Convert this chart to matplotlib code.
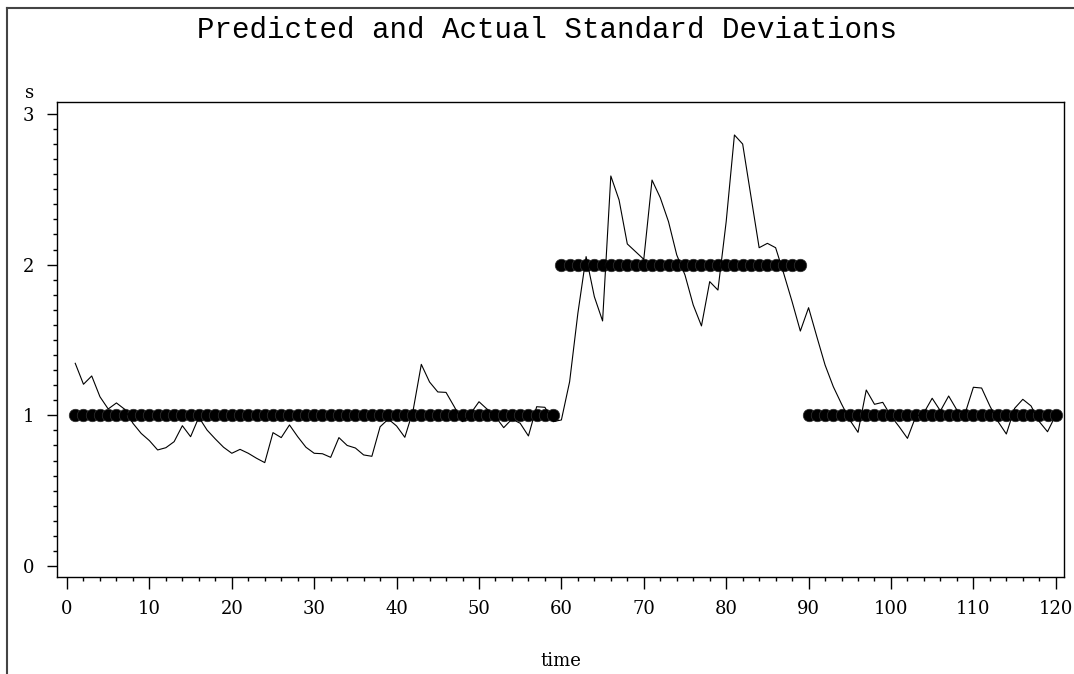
import matplotlib
matplotlib.use("Agg")
import matplotlib.pyplot as plt
from matplotlib.lines import Line2D
from matplotlib.ticker import MultipleLocator
import numpy as np

# observation index
time = np.arange(1, 121)

# predicted standard deviation: regime levels
predicted = [1.0] * 59 + [2.0] * 30 + [1.0] * 31

# actual (sample) standard deviation
actual = [
    1.345, 1.206, 1.261, 1.123, 1.042, 1.082, 1.040, 0.947, 0.880, 0.832,
    0.770, 0.785, 0.825, 0.931, 0.858, 0.987, 0.902, 0.843, 0.788, 0.748,
    0.774, 0.748, 0.715, 0.686, 0.885, 0.852, 0.936, 0.858, 0.788, 0.748,
    0.745, 0.721, 0.852, 0.800, 0.783, 0.737, 0.728, 0.924, 0.975, 0.929,
    0.854, 1.031, 1.338, 1.221, 1.155, 1.152, 1.057, 0.958, 1.013, 1.090,
    1.040, 0.991, 0.918, 0.975, 0.947, 0.863, 1.057, 1.053, 0.958, 0.969,
    1.223, 1.677, 2.053, 1.787, 1.626, 2.588, 2.429, 2.137, 2.086, 2.035,
    2.561, 2.444, 2.285, 2.064, 1.931, 1.732, 1.593, 1.887, 1.831, 2.285,
    2.860, 2.800, 2.455, 2.112, 2.141, 2.112, 1.938, 1.754, 1.559, 1.714,
    1.522, 1.334, 1.190, 1.075, 0.969, 0.887, 1.168, 1.073, 1.086, 0.995,
    0.924, 0.847, 0.991, 1.017, 1.113, 1.029, 1.128, 1.035, 1.013, 1.186,
    1.181, 1.062, 0.958, 0.876, 1.046, 1.106, 1.062, 0.958, 0.891, 1.002,
]

x_major = list(range(0, 121, 10))
y_major = [0, 1, 2, 3]

SERIF = "DejaVu Serif"

fig = plt.figure(figsize=(10.74, 6.74), dpi=100, facecolor="white")
ax = fig.add_axes([0.0531, 0.1439, 0.9376, 0.7048])

ax.plot(time, actual, color="black", linewidth=0.8, zorder=3)
ax.plot(time, predicted, linestyle="none", marker="o", markersize=9,
        markerfacecolor="black", markeredgecolor="#333333",
        markeredgewidth=0.5, zorder=2)

ax.set_xlim(-1.21, 121.0)
ax.set_ylim(-0.073, 3.079)

ax.xaxis.set_major_locator(MultipleLocator(10))
ax.xaxis.set_minor_locator(MultipleLocator(2))
ax.yaxis.set_major_locator(MultipleLocator(1))
ax.yaxis.set_minor_locator(MultipleLocator(0.1))
ax.set_xticks(x_major)
ax.set_yticks(y_major)

ax.tick_params(which="major", direction="out", width=1, labelsize=13)
ax.tick_params(axis="x", which="major", length=8.4, pad=8.5)
ax.tick_params(axis="y", which="major", length=7.2, pad=9)
ax.tick_params(which="minor", direction="out", length=3.2, width=1)
for lbl in ax.get_xticklabels() + ax.get_yticklabels():
    lbl.set_fontfamily(SERIF)

for spine in ax.spines.values():
    spine.set_linewidth(1)
    spine.set_color("black")

ax.set_xlabel("time", fontsize=13, fontfamily=SERIF, labelpad=24)
fig.text(30 / 1074, 1 - 93 / 674, "s", fontsize=13, fontfamily=SERIF,
         ha="center", va="center")

fig.text(547 / 1074, 1 - 30 / 674, "Predicted and Actual Standard Deviations",
         fontsize=21, fontfamily="Liberation Mono", ha="center", va="center")

# outer frame along the top and left edges
fig.add_artist(Line2D([7 / 1074, 1.0], [1 - 8 / 674, 1 - 8 / 674],
                      transform=fig.transFigure, color="#444444", linewidth=1.5))
fig.add_artist(Line2D([7 / 1074, 7 / 1074], [0.0, 1 - 8 / 674],
                      transform=fig.transFigure, color="#444444", linewidth=1.5))

fig.savefig("out.png", dpi=100, facecolor="white")
